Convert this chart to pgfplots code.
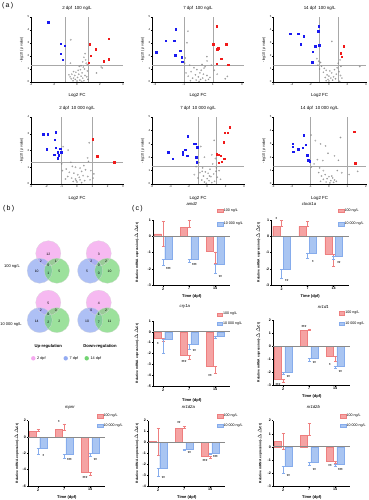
\documentclass[border=0pt]{standalone}
\usepackage{fontspec}
\setmainfont{Liberation Sans}
\usepackage{pgfplots}
\usepackage{pgfplotstable}
\pgfplotsset{compat=1.18}
\definecolor{vblue}{HTML}{1A1AF0}
\definecolor{vred}{HTML}{F01A1A}
\definecolor{vgray}{HTML}{7F7F7F}
\definecolor{lgray}{HTML}{A8A8A8}
\definecolor{zgray}{HTML}{8A8A8A}
\definecolor{rfill}{HTML}{F5A3A3}
\definecolor{rdraw}{HTML}{EE7F7F}
\definecolor{bfill}{HTML}{A9C5F2}
\definecolor{bdraw}{HTML}{86ACEC}
\definecolor{vp}{HTML}{F4A8EE}
\definecolor{vb}{HTML}{93ABF2}
\definecolor{vg}{HTML}{72D472}

\pgfplotsset{
 volc/.style={scale only axis, width=92pt, axis lines=left, axis line style={line width=0.35pt,-},
  every tick/.style={line width=0.3pt,black}, tick align=outside, major tick length=1.2pt,
  ticklabel style={font=\fontsize{2.8}{3}\selectfont, inner sep=0.5pt},
  /pgf/number format/assume math mode=true,
  xlabel={Log2 FC}, ylabel={-log10 (\textit{p} value)},
  xlabel style={font=\fontsize{4.4}{5}\selectfont, at={(axis description cs:0.5,-0.21)}, anchor=center},
  ylabel style={font=\fontsize{3.6}{4}\selectfont, at={(axis description cs:-0.1,0.5)}, anchor=center},
  title style={font=\fontsize{4.4}{5}\selectfont, at={(axis description cs:0.5,1)}, anchor=south, inner sep=0.8pt},
  ymin=0},
 thr/.style={lgray, line width=0.35pt, forget plot},
 bpt/.style={only marks, mark=square*, mark size=0.75pt, vblue},
 rpt/.style={only marks, mark=square*, mark size=0.75pt, vred},
 gpt/.style={only marks, mark=o, mark size=0.7pt, mark options={line width=0.2pt}, vgray},
 barc/.style={scale only axis, width=77pt, height=65pt, axis lines=left, axis line style={line width=0.6pt,-},
  every tick/.style={line width=0.5pt,black}, tick align=outside, major tick length=1.5pt,
  xmin=0.62, xmax=3.58, xtick={1,2,3}, xticklabels={2,7,14},
  ticklabel style={font=\fontsize{3.6}{4}\bfseries\selectfont, inner sep=0.8pt},
  /pgf/number format/assume math mode=true,
  xlabel={Time (dpf)},
  xlabel style={font=\fontsize{4}{5}\bfseries\selectfont, anchor=center},
  ylabel={Relative mRNA expression(-$\Delta\Delta$Ct)},
  ylabel style={font=\fontsize{3.3}{4}\bfseries\selectfont, anchor=center},
  title style={font=\fontsize{4.2}{5}\itshape\selectfont, anchor=center},
  legend style={draw=none, fill=none, font=\fontsize{3.6}{4}\selectfont, anchor=north west, inner sep=0pt, nodes={inner sep=0.6pt}},
  legend cell align=left, clip=false},
 rbar/.style={ybar, bar width=0.28, bar shift=-0.2, fill=rfill, draw=rdraw, line width=0.4pt,
  legend image code/.code={\draw[##1] (0pt,-1.7pt) rectangle (5.5pt,1.7pt);},
  error bars/.cd, y dir=both, y explicit, error bar style={line width=0.35pt, rdraw},
  error mark options={rotate=90, mark size=1.6pt, line width=0.35pt, rdraw}},
 bbar/.style={ybar, bar width=0.28, bar shift=0.2, fill=bfill, draw=bdraw, line width=0.4pt,
  legend image code/.code={\draw[##1] (0pt,-1.7pt) rectangle (5.5pt,1.7pt);},
  error bars/.cd, y dir=both, y explicit, error bar style={line width=0.35pt, bdraw},
  error mark options={rotate=90, mark size=1.6pt, line width=0.35pt, bdraw}},
}
\newcommand\st[3]{\node[font=\fontsize{4}{4}\bfseries\selectfont, inner sep=0pt, yshift=-0.6pt] at (axis cs:#1,#2) {#3};}
\newcommand\zl{\draw[zgray, line width=0.9pt] (axis cs:0.62,0) -- (axis cs:3.58,0);}

% ---------- bar data: x y ep em ----------
\pgfplotstableread{
x y ep em
1 0.15 0.75 0.75
2 0.55 0.45 0
3 -0.95 0 0.72
}\amdR
\pgfplotstableread{
x y ep em
1 -1.43 0 0.38
2 -1.42 0 0.18
3 -1.74 0 0.52
}\amdB
\pgfplotstableread{
x y ep em
1 0.60 0.36 0
2 0.60 0.33 0
3 -1.12 0 0.75
}\clkR
\pgfplotstableread{
x y ep em
1 -2.04 0 0.56
2 -1.02 0 0.32
3 -1.23 0 0.17
}\clkB
\pgfplotstableread{
x y ep em
1 -0.62 0 0.24
2 -2.15 0 0.40
3 -3.17 0 0.63
}\cryR
\pgfplotstableread{
x y ep em
1 -0.68 0 1.32
2 -1.14 0 0.49
3 -0.37 0 0.25
}\cryB
\pgfplotstableread{
x y ep em
1 -2.56 0 0.21
2 1.23 0.10 0
3 -0.82 0 0.33
}\nraR
\pgfplotstableread{
x y ep em
1 -2.00 0 0.18
2 -0.97 0 0.18
3 -1.54 0 0.20
}\nraB
\pgfplotstableread{
x y ep em
1 0.69 0.29 0
2 0.90 0.73 0
3 -4.33 0 0.40
}\mpR
\pgfplotstableread{
x y ep em
1 -1.35 0 0.69
2 -2.16 0 0.41
3 -1.96 0 0.41
}\mpB
\pgfplotstableread{
x y ep em
1 0.10 1.25 1.25
2 1.28 0.25 0
3 -1.28 0 0.19
}\naR
\pgfplotstableread{
x y ep em
1 -2.35 0 0.71
2 -0.61 0 0.06
3 -0.98 0 0.12
}\naB
\pgfplotstableread{
x y ep em
1 0.44 0.62 0.60
2 0.87 0.92 0
3 -1.10 0 0.13
}\nbR
\pgfplotstableread{
x y ep em
1 -1.49 0 0.51
2 -1.18 0 0.26
3 -1.33 0 0.16
}\nbB

\newcommand\venn[9]{%
 \begin{scope}[shift={(#1pt,-#2pt)}]
 \fill[vp, fill opacity=0.8] (0,0) circle (12.6pt);
 \fill[vb, fill opacity=0.75] (-8.6pt,-17.4pt) circle (12.6pt);
 \fill[vg, fill opacity=0.7] (8.6pt,-17.4pt) circle (12.6pt);
 \draw[white!70!gray, line width=0.2pt] (0,0) circle (12.6pt) (-8.6pt,-17.4pt) circle (12.6pt) (8.6pt,-17.4pt) circle (12.6pt);
 \begin{scope}[font=\fontsize{3.4}{4}\selectfont, inner sep=0pt]
 \node at (0,-1pt) {#3};
 \node at (-7.4pt,-7.6pt) {#4};
 \node at (7.4pt,-7.6pt) {#5};
 \node at (0,-11.8pt) {#6};
 \node at (-11.6pt,-18.4pt) {#7};
 \node at (0,-20pt) {#8};
 \node at (10.9pt,-18.4pt) {#9};
 \end{scope}
 \end{scope}}

\begin{document}
\begin{tikzpicture}
\useasboundingbox (0,0) rectangle (368pt,-500pt);
\node[font=\fontsize{7}{8}\selectfont, anchor=west, inner sep=0pt] at (2pt,-6pt) {(\,a\,)};
\node[font=\fontsize{7}{8}\selectfont, anchor=west, inner sep=0pt] at (3pt,-209pt) {(\,b\,)};
\node[font=\fontsize{7}{8}\selectfont, anchor=west, inner sep=0pt] at (132pt,-209pt) {(\,c\,)};

% ================= volcano plots =================
\begin{axis}[volc, at={(31pt,-82pt)}, height=65pt, xmin=-4, xmax=4, xtick={-4,-2,0,2,4}, ymax=5, ytick={0,...,5}, title={2 dpf\ \ 100 ng/L}]
\addplot[thr] coordinates {(-1,0) (-1,5)};
\addplot[thr] coordinates {(1,0) (1,5)};
\addplot[thr] coordinates {(-4,1.3) (4,1.3)};
\addplot[gpt] coordinates {(-0.54,3.25) (0.71,2.18) (-0.57,1.45) (1.69,0.69) (2.2,1.07) (2.1,1.15)
 (0.6,1.9) (0.75,1.7) (0.5,1.55) (0.8,1.45) (0.9,1.35) (0.35,1.25) (0.2,1.2) (0.55,1.15) (0.65,1.0)
 (0.3,0.95) (0.1,0.9) (0.9,0.85) (-0.3,0.8) (-0.1,0.75) (0.45,0.7) (0.15,0.6) (-0.45,0.6) (-0.2,0.5)
 (0.7,0.5) (0.35,0.45) (-0.6,0.4) (-0.3,0.3) (0.05,0.35) (0.5,0.3) (-0.5,0.25) (-0.15,0.2) (0.25,0.15)
 (0.6,0.1) (-0.35,0.1) (0.0,0.08) (0.85,0.4) (0.95,0.2) (0.4,0.05) (-0.7,0.55)};
\addplot[bpt] coordinates {(-2.49,4.6) (-1.43,2.94) (-1.06,2.8) (-1.43,2.18) (-1.23,1.73)};
\addplot[rpt] coordinates {(2.74,3.32) (1.09,2.92) (1.63,2.54) (1.17,2.03) (1.03,1.5) (2.34,1.6) (2.74,1.75)};
\end{axis}

\begin{axis}[volc, at={(152pt,-82pt)}, height=65pt, xmin=-3.2, xmax=3.15, xtick={-3,-1,1,3}, ymax=5, ytick={0,...,5}, title={7 dpf\ \ 100 ng/L}]
\addplot[thr] coordinates {(-1,0) (-1,5)};
\addplot[thr] coordinates {(1,0) (1,5)};
\addplot[thr] coordinates {(-3.2,1.3) (3.15,1.3)};
\addplot[gpt] coordinates {(-0.72,3.91) (-0.78,3.02) (-0.9,1.85) (0.59,1.95) (0.6,1.62) (0.39,1.07) (0.47,1.19)
 (2.0,0.43) (1.85,0.25) (-0.6,1.3) (-0.3,1.1) (-0.1,0.95) (0.2,0.9) (-0.5,0.8) (0.1,0.7) (0.35,0.6)
 (-0.2,0.55) (0.6,0.5) (-0.7,0.45) (0.0,0.4) (0.3,0.3) (-0.4,0.3) (0.8,0.35) (0.15,0.2) (-0.15,0.15)
 (0.5,0.12) (-0.55,0.1) (0.7,0.2) (0.05,0.05) (-0.85,0.7) (1.3,0.6) (1.1,0.9) (0.9,1.3) (-0.95,1.45) (0.25,1.35)};
\addplot[bpt] coordinates {(-2.90,2.28) (-2.26,3.17) (-1.66,3.17) (-1.57,4.06) (-1.61,2.08) (-1.27,2.39) (-1.15,1.90) (-1.10,1.55)};
\addplot[rpt] coordinates {(1.26,4.31) (1.03,2.89) (1.38,2.59) (1.31,2.54) (1.59,1.80) (1.26,1.42) (1.93,2.89) (2.07,1.32)};
\end{axis}

\begin{axis}[volc, at={(273.3pt,-82pt)}, width=92.7pt, height=65pt, xmin=-6, xmax=4, xtick={-6,-4,...,4}, ymax=5, ytick={0,...,5}, title={14 dpf\ \ 100 ng/L}]
\addplot[thr] coordinates {(-1,0) (-1,5)};
\addplot[thr] coordinates {(1,0) (1,5)};
\addplot[thr] coordinates {(-6,1.3) (4,1.3)};
\addplot[gpt] coordinates {(0.32,3.12) (3.33,1.19) (-1.3,1.8) (-1.1,1.6) (-0.9,1.5) (-1.2,1.3) (-0.8,1.2) (-0.5,1.05)
 (1.2,1.7) (1.0,1.45) (1.3,1.2) (0.9,1.1) (-0.3,0.9) (0.1,0.85) (0.6,0.95) (1.1,0.8) (-0.6,0.75) (0.3,0.7)
 (0.8,0.6) (-0.2,0.55) (0.0,0.45) (0.5,0.4) (-0.4,0.35) (0.2,0.3) (-0.1,0.2) (0.4,0.15) (0.0,0.08)
 (-0.3,0.1) (0.7,0.25) (1.25,0.5) (1.4,0.3) (-1.0,1.0) (1.15,0.05)};
\addplot[bpt] coordinates {(-4.19,3.71) (-3.33,3.71) (-2.72,3.53) (-3.05,2.89) (-1.47,2.74) (-1.18,3.91) (-1.11,4.29) (-1.07,2.84) (-1.76,2.33) (-1.79,1.52)};
\addplot[rpt] coordinates {(1.61,2.77) (1.29,2.21) (1.36,1.95)};
\end{axis}

\begin{axis}[volc, at={(31pt,-184pt)}, height=67pt, xmin=-3, xmax=3, xtick={-3,...,3}, ymax=4, ytick={0,...,4}, title={2 dpf\ \ 10 000 ng/L}]
\addplot[thr] coordinates {(-1,0) (-1,4)};
\addplot[thr] coordinates {(1,0) (1,4)};
\addplot[thr] coordinates {(-3,1.3) (3,1.3)};
\addplot[gpt] coordinates {(-0.9,2.23) (-0.58,2.02) (0.8,2.46) (0.69,1.56) (0.75,1.35) (-1.0,1.2) (-0.95,0.8)
 (-0.4,1.3) (-0.3,1.05) (-0.7,0.9) (-0.1,1.0) (0.2,0.95) (0.45,1.1) (0.55,0.85) (0.3,0.75) (0.9,0.8)
 (1.1,0.6) (-0.5,0.7) (-0.2,0.65) (0.05,0.55) (0.4,0.5) (0.7,0.45) (-0.6,0.45) (-0.35,0.35) (-0.1,0.3)
 (0.2,0.25) (0.5,0.2) (0.0,0.12) (-0.25,0.15) (0.3,0.08) (0.85,0.25) (-0.75,0.3) (1.05,0.35) (0.15,0.4) (-0.05,0.2)};
\addplot[bpt] coordinates {(-2.19,2.96) (-1.91,2.96) (-1.40,3.10) (-1.46,2.65) (-1.98,2.08) (-1.40,2.17) (-1.10,2.10) (-1.25,1.90) (-1.03,1.90) (-1.48,1.75) (-1.20,1.71) (-1.25,1.54)};
\addplot[rpt] coordinates {(1.03,2.67) (1.33,1.65) (2.41,1.31)};
\end{axis}

\begin{axis}[volc, at={(152pt,-184pt)}, height=67pt, xmin=-6, xmax=4, xtick={-6,-4,...,4}, ymax=5, ytick={0,...,5}, title={7 dpf\ \ 10 000 ng/L}]
\addplot[thr] coordinates {(-1,0) (-1,5)};
\addplot[thr] coordinates {(1,0) (1,5)};
\addplot[thr] coordinates {(-6,1.3) (4,1.3)};
\addplot[gpt] coordinates {(0.75,3.26) (0.5,2.18) (-0.7,2.8) (-0.3,2.0) (0.9,1.9) (0.6,1.5) (-0.9,1.6) (-1.2,1.3)
 (-0.5,1.2) (0.3,1.1) (1.0,1.2) (1.3,1.0) (-0.2,0.9) (0.1,0.8) (-0.8,0.85) (0.7,0.75) (-0.4,0.6) (0.4,0.55)
 (1.1,0.5) (-1.0,0.45) (0.0,0.4) (-0.6,0.3) (0.2,0.25) (0.8,0.2) (-0.3,0.15) (0.5,0.1) (-0.1,0.05)
 (-1.4,0.7) (1.45,0.35) (0.25,0.6) (-0.55,0.95) (0.95,0.95)};
\addplot[bpt] coordinates {(-2.11,3.56) (-1.43,3.01) (-1.25,3.01) (-1.08,2.76) (-2.40,2.56) (-2.18,2.13) (-1.22,2.01) (-1.14,1.63) (-4.26,2.38) (-3.76,1.88) (-2.65,2.38) (-2.65,2.20)};
\addplot[rpt] coordinates {(2.47,4.23) (1.90,3.83) (2.23,3.83) (1.80,3.11) (1.04,2.23) (1.26,2.20) (1.44,2.13) (1.87,1.88) (1.55,1.68) (1.23,1.60)};
\end{axis}

\begin{axis}[volc, at={(273.3pt,-184pt)}, width=92.7pt, height=67pt, xmin=-3, xmax=2, xtick={-3,...,2}, ymax=5, ytick={0,...,5}, title={14 dpf\ \ 10 000 ng/L}]
\addplot[thr] coordinates {(-1,0) (-1,5)};
\addplot[thr] coordinates {(1,0) (1,5)};
\addplot[thr] coordinates {(-3,1.3) (2,1.3)};
\addplot[gpt] coordinates {(-0.96,3.65) (-0.73,3.24) (-0.45,2.99) (-0.18,2.84) (0.62,3.47) (-0.62,1.82) (-0.33,1.75)
 (0.51,1.77) (0.69,0.84) (1.09,0.71) (1.55,0.94) (-0.95,1.27) (-0.8,1.5) (-0.5,1.2) (-0.3,1.0) (-0.55,0.85)
 (-0.2,0.7) (-0.4,0.6) (0.0,0.55) (-0.1,0.4) (0.2,0.45) (-0.3,0.35) (0.1,0.25) (0.3,0.3) (-0.15,0.15)
 (0.05,0.08) (0.25,0.12) (-0.45,0.2) (0.4,0.2) (0.15,0.6) (0.45,1.0) (-0.05,2.3) (0.3,2.1)};
\addplot[bpt] coordinates {(-1.35,3.65) (-1.95,3.01) (-1.95,2.78) (-1.67,2.61) (-1.42,2.71) (-1.24,2.94) (-1.93,2.41) (-1.16,2.15) (-1.11,1.77) (-1.04,1.72)};
\addplot[rpt] coordinates {(1.36,3.92) (1.42,1.54)};
\end{axis}

% ================= Venn diagrams =================
\venn{48.3}{253.3}{12}{2}{1}{0}{10}{1}{5}
\venn{98.7}{253.3}{3}{2}{2}{0}{5}{0}{10}
\venn{48.3}{302.7}{5}{2}{0}{0}{14}{2}{2}
\venn{98.7}{302.7}{4}{0}{2}{1}{10}{7}{11}
\node[font=\fontsize{4}{5}\selectfont] at (12pt,-266pt) {100 ng/L};
\node[font=\fontsize{4}{5}\selectfont] at (11pt,-324pt) {10 000 ng/L};
\node[font=\fontsize{4.2}{5}\bfseries\selectfont] at (48.3pt,-346pt) {Up-regulation};
\node[font=\fontsize{4.2}{5}\bfseries\selectfont] at (100pt,-346pt) {Down-regulation};
\fill[vp] (33.3pt,-358.3pt) circle (2.2pt);
\fill[vb] (65.7pt,-358.3pt) circle (2.2pt);
\fill[vg] (86.7pt,-358.3pt) circle (2.2pt);
\node[font=\fontsize{3.8}{4}\selectfont, anchor=west, inner sep=0pt] at (37pt,-358.3pt) {2 dpf};
\node[font=\fontsize{3.8}{4}\selectfont, anchor=west, inner sep=0pt] at (69.4pt,-358.3pt) {7 dpf};
\node[font=\fontsize{3.8}{4}\selectfont, anchor=west, inner sep=0pt] at (90.4pt,-358.3pt) {14 dpf};

% ================= bar charts =================
% amd2
\begin{axis}[barc, at={(153.3pt,-285pt)}, ymin=-3, ymax=1, ytick={-3,...,1}, title={amd2},
 title style={at={(axis description cs:0.5,1.154)}}, ylabel style={at={(axis description cs:-0.216,0.5)}},
 xlabel style={at={(axis description cs:0.5,-0.17)}},
 legend style={at={(axis description cs:0.83,1.19)}, row sep=8.5pt}]
\addplot[rbar] table[x=x, y=y, y error plus=ep, y error minus=em] {\amdR};
\addplot[bbar] table[x=x, y=y, y error plus=ep, y error minus=em] {\amdB};
\legend{100 ng/L, 10 000 ng/L}
\zl
\st{1.2}{-2.0}{***}\st{2.2}{-1.75}{***}\st{3.2}{-2.45}{**}
\end{axis}
% clock1a
\begin{axis}[barc, at={(271.7pt,-285pt)}, ymin=-3, ymax=1, ytick={-3,...,1}, title={clock1a},
 title style={at={(axis description cs:0.485,1.154)}}, ylabel style={at={(axis description cs:-0.174,0.5)}},
 xlabel style={at={(axis description cs:0.5,-0.17)}},
 legend style={at={(axis description cs:0.86,1.19)}, row sep=8.5pt}]
\addplot[rbar] table[x=x, y=y, y error plus=ep, y error minus=em] {\clkR};
\addplot[bbar] table[x=x, y=y, y error plus=ep, y error minus=em] {\clkB};
\legend{100 ng/L, 10 000 ng/L}
\zl
\st{0.8}{1.1}{*}\st{1.2}{-2.75}{**}\st{2.2}{-1.55}{*}\st{3.2}{-1.6}{**}
\end{axis}
% cry1a
\begin{axis}[barc, at={(153.3pt,-386pt)}, ymin=-5, ymax=1, ytick={-5,...,1}, title={cry1a},
 title style={at={(axis description cs:0.41,1.128)}}, ylabel style={at={(axis description cs:-0.216,0.5)}},
 xlabel style={at={(axis description cs:0.5,-0.215)}},
 legend style={at={(axis description cs:0.82,1.145)}, row sep=4pt}]
\addplot[rbar] table[x=x, y=y, y error plus=ep, y error minus=em] {\cryR};
\addplot[bbar] table[x=x, y=y, y error plus=ep, y error minus=em] {\cryB};
\legend{100 ng/L, 10 000 ng/L}
\zl
\st{0.8}{-1.05}{*}\st{1.8}{-2.75}{***}\st{2.2}{-1.75}{**}\st{2.8}{-4.05}{**}
\end{axis}
% nr1d1
\begin{axis}[barc, at={(273.3pt,-385pt)}, ymin=-3, ymax=2, ytick={-3,...,2}, title={nr1d1},
 title style={at={(axis description cs:0.65,1.112)}}, ylabel style={at={(axis description cs:-0.195,0.5)}},
 xlabel style={at={(axis description cs:0.5,-0.18)}},
 legend style={at={(axis description cs:0.85,1.149)}, row sep=5.4pt}]
\addplot[rbar] table[x=x, y=y, y error plus=ep, y error minus=em] {\nraR};
\addplot[bbar] table[x=x, y=y, y error plus=ep, y error minus=em] {\nraB};
\legend{100 ng/L, 10 000 ng/L}
\zl
\st{0.8}{-2.95}{***}\st{1.2}{-2.35}{**}\st{1.8}{1.5}{***}\st{2.2}{-1.3}{**}\st{2.8}{-1.4}{*}\st{3.2}{-1.95}{**}
\end{axis}
% mpnr
\begin{axis}[barc, at={(28.3pt,-486pt)}, height=65.3pt, ymin=-6, ymax=2, ytick={-6,-4,...,2}, title={mpnr},
 title style={at={(axis description cs:0.54,1.113)}}, ylabel style={at={(axis description cs:-0.15,0.5)}},
 xlabel style={at={(axis description cs:0.5,-0.18)}},
 legend style={at={(axis description cs:0.89,1.113)}, row sep=4pt}]
\addplot[rbar] table[x=x, y=y, y error plus=ep, y error minus=em] {\mpR};
\addplot[bbar] table[x=x, y=y, y error plus=ep, y error minus=em] {\mpB};
\legend{100 ng/L, 10 000 ng/L}
\zl
\st{1.2}{-2.3}{*}\st{1.8}{1.95}{*}\st{2.2}{-2.8}{***}\st{2.8}{-5.0}{***}\st{3.2}{-2.7}{**}
\end{axis}
% nr1d2a
\begin{axis}[barc, at={(148.3pt,-486pt)}, height=65.3pt, ymin=-4, ymax=2, ytick={-4,...,2}, title={nr1d2a},
 title style={at={(axis description cs:0.52,1.113)}}, ylabel style={at={(axis description cs:-0.15,0.5)}},
 xlabel style={at={(axis description cs:0.5,-0.18)}},
 legend style={at={(axis description cs:0.89,1.113)}, row sep=4pt}]
\addplot[rbar] table[x=x, y=y, y error plus=ep, y error minus=em] {\naR};
\addplot[bbar] table[x=x, y=y, y error plus=ep, y error minus=em] {\naB};
\legend{100 ng/L, 10 000 ng/L}
\zl
\st{1.2}{-3.2}{**}\st{1.8}{1.8}{**}\st{2.2}{-0.92}{**}\st{2.8}{-1.65}{***}\st{3.2}{-1.3}{***}
\end{axis}
% nr1d2b
\begin{axis}[barc, at={(273.3pt,-486pt)}, height=65.3pt, ymin=-3, ymax=2, ytick={-3,...,2}, title={nr1d2b},
 title style={at={(axis description cs:0.52,1.113)}}, ylabel style={at={(axis description cs:-0.173,0.5)}},
 xlabel style={at={(axis description cs:0.5,-0.18)}},
 legend style={at={(axis description cs:0.866,1.113)}, row sep=4pt}]
\addplot[rbar] table[x=x, y=y, y error plus=ep, y error minus=em] {\nbR};
\addplot[bbar] table[x=x, y=y, y error plus=ep, y error minus=em] {\nbB};
\legend{100 ng/L, 10 000 ng/L}
\zl
\st{1.2}{-2.2}{**}\st{2.2}{-1.7}{**}\st{2.8}{-1.45}{**}\st{3.2}{-1.7}{***}
\end{axis}
\end{tikzpicture}
\end{document}
